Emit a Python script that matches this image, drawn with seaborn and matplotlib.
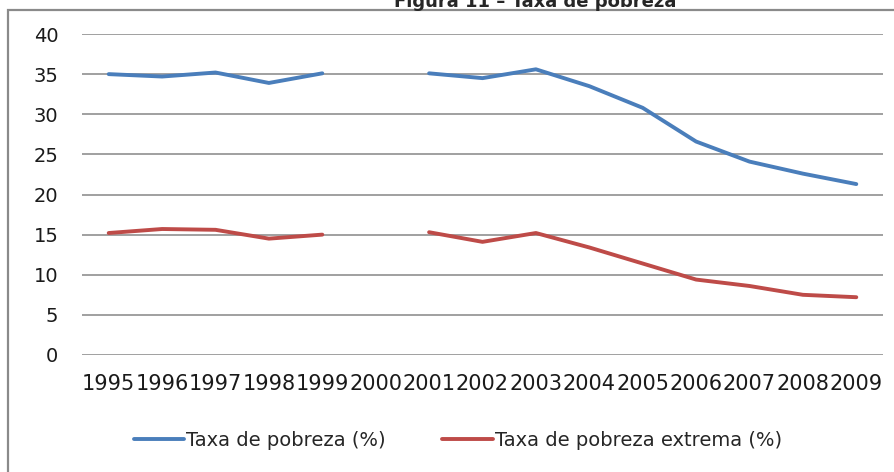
import numpy as np
import pandas as pd
import seaborn as sns
import matplotlib.pyplot as plt
from matplotlib.patches import Rectangle

# dados (2000 sem valor)
anos = ['1995', '1996', '1997', '1998', '1999', '2000', '2001', '2002',
        '2003', '2004', '2005', '2006', '2007', '2008', '2009']
pobreza = [35.0, 34.7, 35.2, 33.9, 35.1, np.nan, 35.1, 34.5,
           35.6, 33.5, 30.8, 26.6, 24.1, 22.6, 21.3]
pobreza_extrema = [15.2, 15.7, 15.6, 14.5, 15.0, np.nan, 15.3, 14.1,
                   15.2, 13.4, 11.4, 9.4, 8.6, 7.5, 7.2]
series = ['Taxa de pobreza (%)', 'Taxa de pobreza extrema (%)']
cores = ['#4A7EBB', '#BE4B48']

# tabela longa, com um segmento antes e outro depois do buraco de 2000
linhas = []
for nome, vals in zip(series, [pobreza, pobreza_extrema]):
    for i, (a, v) in enumerate(zip(anos, vals)):
        if not np.isnan(v):
            linhas.append({'pos': i, 'ano': a, 'valor': v, 'serie': nome,
                           'seg': nome + ('_a' if i < 5 else '_b')})
df = pd.DataFrame(linhas)

sns.set_theme(style='white')
plt.rcParams['font.family'] = ['DejaVu Sans']

fig = plt.figure(figsize=(8.95, 4.72), dpi=100)
ax = fig.add_axes([82 / 895, 117 / 472, 801 / 895, 321 / 472])

sns.lineplot(data=df, x='pos', y='valor', hue='serie', units='seg',
             estimator=None, palette=cores, linewidth=2.8, ax=ax,
             legend=False, zorder=3)

ax.set_xlim(-0.5, 14.5)
ax.set_ylim(0, 40)
ax.set_yticks(range(0, 41, 5))
ax.set_xticks(range(len(anos)))
ax.set_xticklabels(anos)
ax.tick_params(axis='both', length=0, labelsize=14, colors='#1a1a1a')
ax.tick_params(axis='x', labelsize=15, pad=14)
ax.tick_params(axis='y', pad=17)
ax.set_xlabel('')
ax.set_ylabel('')
ax.yaxis.grid(True, color='#868686', linewidth=1.1)
ax.set_axisbelow(True)
for s in ax.spines.values():
    s.set_visible(False)

# legenda em baixo
handles = [plt.Line2D([], [], color=c, linewidth=2.8) for c in cores]
fig.legend(handles, series, loc='center', bbox_to_anchor=(458 / 895, 1 - 440 / 472),
           ncol=2, frameon=False, fontsize=14, handlelength=2.6,
           handletextpad=0.1, columnspacing=2.9)

# moldura cinzenta e título cortado no topo
fig.patches.append(Rectangle((8 / 895, -0.1), 1.0, 1 - 10 / 472 + 0.1,
                             transform=fig.transFigure, fill=False,
                             edgecolor='#8a8a8a', linewidth=1.6, clip_on=False))
fig.text(535 / 895, 1 - 7 / 472, 'Figura 11 – Taxa de pobreza', ha='center',
         va='baseline', fontsize=13, fontweight='bold')

fig.savefig('out.png', dpi=100)
